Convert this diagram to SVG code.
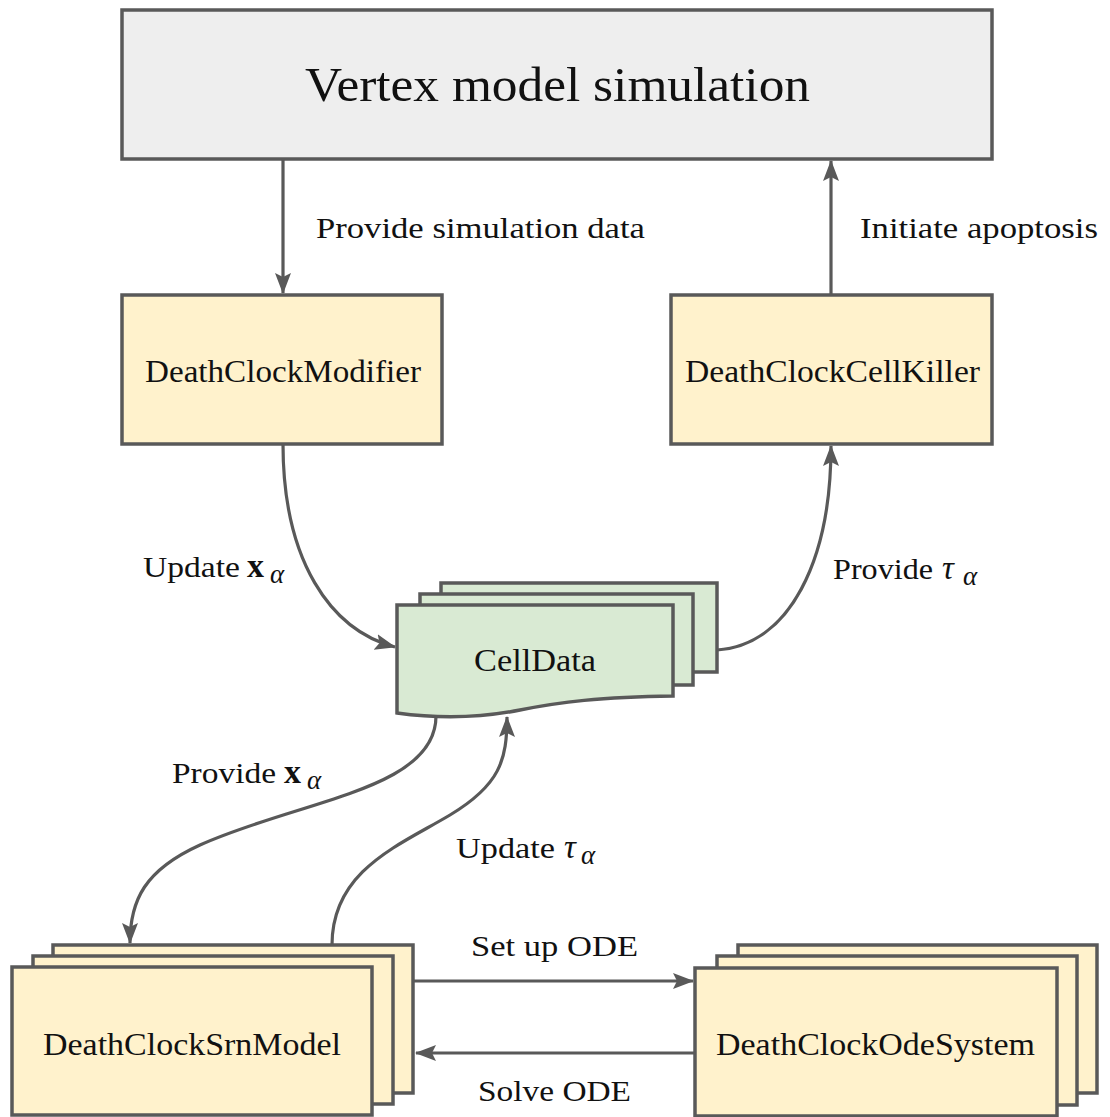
<svg xmlns="http://www.w3.org/2000/svg" width="1110" height="1117" viewBox="0 0 1110 1117">
<style>
  .box { stroke:#595959; stroke-width:3.5; }
  .y { fill:#fff2cc; }
  .g { fill:#d9ead3; }
  .gr { fill:#eeeeee; }
  .t { font-family:"Liberation Serif","Times New Roman",serif; fill:#111; }
  .lbl { font-size:30px; }
  .bx { font-size:34px; font-weight:bold; }
  .tau { font-size:33px; font-style:italic; }
  .sub { font-size:27px; font-style:italic; }
  .edge { fill:none; stroke:#595959; stroke-width:3.2; }
</style>
<defs>
  <marker id="ah" markerUnits="userSpaceOnUse" markerWidth="24" markerHeight="18" refX="20" refY="8" orient="auto">
    <path d="M0,0 L21,8 L0,16 L4,8 z" fill="#595959"/>
  </marker>
</defs>
<rect width="1110" height="1117" fill="#ffffff"/>

<g id="vertex">
  <rect class="box gr" x="122" y="10" width="870" height="149"/>
  <text class="t" x="305" y="101" font-size="48" textLength="505" lengthAdjust="spacingAndGlyphs">Vertex model simulation</text>
</g>

<g id="modifier">
  <rect class="box y" x="122" y="295" width="320" height="149"/>
  <text class="t" x="145" y="382" font-size="31" textLength="276" lengthAdjust="spacingAndGlyphs">DeathClockModifier</text>
</g>

<g id="killer">
  <rect class="box y" x="671" y="295" width="321" height="149"/>
  <text class="t" x="685" y="382" font-size="31" textLength="295" lengthAdjust="spacingAndGlyphs">DeathClockCellKiller</text>
</g>

<g id="celldata">
  <rect class="box g" x="441" y="583" width="276" height="89"/>
  <rect class="box g" x="420" y="594" width="273" height="91"/>
  <path class="box g" d="M397,605 L673,605 L673,696 C600,697 560,702 520,710 C480,718 440,719 397,713 Z"/>
  <text class="t" x="474" y="671" font-size="31" textLength="122" lengthAdjust="spacingAndGlyphs">CellData</text>
</g>

<g id="srnmodel">
  <rect class="box y" x="53" y="945" width="360" height="148"/>
  <rect class="box y" x="33" y="956" width="360" height="148"/>
  <rect class="box y" x="12" y="967" width="360" height="148"/>
  <text class="t" x="43" y="1055" font-size="31" textLength="298" lengthAdjust="spacingAndGlyphs">DeathClockSrnModel</text>
</g>

<g id="odesystem">
  <rect class="box y" x="738" y="945" width="359" height="148"/>
  <rect class="box y" x="717" y="956" width="360" height="149"/>
  <rect class="box y" x="695" y="968" width="362" height="148"/>
  <text class="t" x="716" y="1055" font-size="31" textLength="319" lengthAdjust="spacingAndGlyphs">DeathClockOdeSystem</text>
</g>

<g id="connectors">
  <path class="edge" d="M283,159 L283,293" marker-end="url(#ah)"/>
  <path class="edge" d="M831,295 L831,161" marker-end="url(#ah)"/>
  <path class="edge" d="M283,444 C283,560 330,630 395,647" marker-end="url(#ah)"/>
  <path class="edge" d="M717,650 C790,645 831,560 831,446" marker-end="url(#ah)"/>
  <path class="edge" d="M436,716 C436,790 300,800 200,845 C145,870 130,900 130,943" marker-end="url(#ah)"/>
  <path class="edge" d="M332,945 C332,870 400,845 450,815 C500,785 507,760 507,717" marker-end="url(#ah)"/>
  <path class="edge" d="M413,981 L693,981" marker-end="url(#ah)"/>
  <path class="edge" d="M695,1053 L416,1053" marker-end="url(#ah)"/>
</g>

<g id="labels">
  <text class="t lbl" x="316" y="238" textLength="329" lengthAdjust="spacingAndGlyphs">Provide simulation data</text>
  <text class="t lbl" x="860" y="238" textLength="238" lengthAdjust="spacingAndGlyphs">Initiate apoptosis</text>
  <g id="lbl-update-x">
    <text class="t lbl" x="143" y="577" textLength="97" lengthAdjust="spacingAndGlyphs">Update</text>
    <text class="t bx" x="247" y="577">x</text>
    <text class="t sub" x="270" y="583">α</text>
  </g>
  <g id="lbl-provide-tau">
    <text class="t lbl" x="833" y="579" textLength="100" lengthAdjust="spacingAndGlyphs">Provide</text>
    <text class="t tau" x="942" y="579">τ</text>
    <text class="t sub" x="963" y="585">α</text>
  </g>
  <g id="lbl-provide-x">
    <text class="t lbl" x="172" y="783" textLength="104" lengthAdjust="spacingAndGlyphs">Provide</text>
    <text class="t bx" x="284" y="783">x</text>
    <text class="t sub" x="307" y="789">α</text>
  </g>
  <g id="lbl-update-tau">
    <text class="t lbl" x="456" y="858" textLength="99" lengthAdjust="spacingAndGlyphs">Update</text>
    <text class="t tau" x="564" y="858">τ</text>
    <text class="t sub" x="581" y="864">α</text>
  </g>
  <text class="t lbl" x="471" y="956" textLength="167" lengthAdjust="spacingAndGlyphs">Set up ODE</text>
  <text class="t lbl" x="478" y="1101" textLength="153" lengthAdjust="spacingAndGlyphs">Solve ODE</text>
</g>
</svg>
